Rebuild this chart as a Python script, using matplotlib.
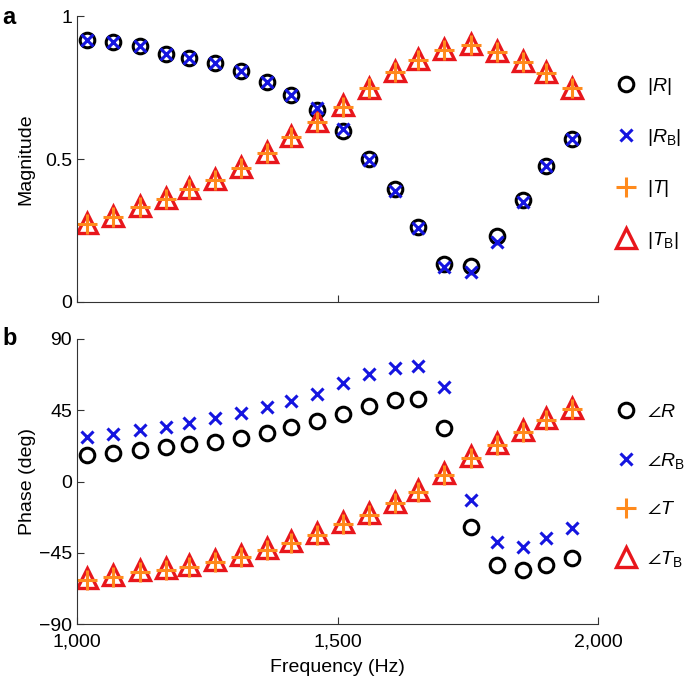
import matplotlib
matplotlib.use("Agg")
import matplotlib.pyplot as plt

plt.rcParams['font.family'] = ['Liberation Sans', 'DejaVu Sans']
plt.rcParams['mathtext.fontset'] = 'custom'
plt.rcParams['mathtext.rm'] = 'Liberation Sans'
plt.rcParams['mathtext.it'] = 'Liberation Sans:italic'
plt.rcParams['mathtext.fallback'] = 'stixsans'

# frequencies (Hz)
freq = [1020, 1070, 1120, 1170, 1215, 1265, 1315, 1365, 1410, 1460,
        1510, 1560, 1610, 1655, 1705, 1755, 1805, 1855, 1900, 1950]

# magnitudes
mag_R = [0.916, 0.908, 0.896, 0.867, 0.854, 0.835, 0.808, 0.770, 0.724, 0.671,
         0.598, 0.500, 0.394, 0.263, 0.132, 0.126, 0.231, 0.357, 0.476, 0.569]
mag_RB = [0.916, 0.908, 0.896, 0.867, 0.854, 0.835, 0.808, 0.770, 0.724, 0.678,
          0.606, 0.497, 0.387, 0.258, 0.123, 0.106, 0.211, 0.349, 0.476, 0.569]
mag_T = [0.273, 0.298, 0.331, 0.359, 0.394, 0.427, 0.470, 0.522, 0.578, 0.630,
         0.682, 0.747, 0.805, 0.848, 0.881, 0.899, 0.875, 0.840, 0.800, 0.747]
mag_TB = [0.276, 0.301, 0.334, 0.362, 0.397, 0.430, 0.473, 0.525, 0.581, 0.633,
          0.690, 0.750, 0.808, 0.851, 0.884, 0.902, 0.878, 0.843, 0.803, 0.750]

# phases (deg)
ph_R = [16.7, 18.2, 19.9, 21.6, 23.5, 25.1, 27.7, 30.4, 34.6, 38.2,
        42.4, 47.7, 51.5, 51.9, 33.6, -28.9, -52.7, -55.9, -52.7, -48.5]
ph_RB = [28.3, 29.8, 32.5, 34.6, 36.8, 39.9, 43.1, 46.9, 50.9, 55.3,
         62.0, 67.9, 71.5, 73.0, 59.9, -11.7, -38.0, -41.2, -35.9, -29.6]
ph_T = [-62.2, -60.1, -57.0, -55.9, -53.8, -50.7, -47.5, -43.3, -38.6, -33.8,
        -26.8, -21.2, -13.8, -6.4, 4.1, 14.7, 23.1, 31.5, 38.9, 45.6]
ph_TB = [-61.0, -59.0, -56.0, -54.8, -52.6, -49.6, -46.4, -42.2, -37.5, -32.7,
         -25.8, -20.1, -12.8, -5.3, 5.2, 15.8, 24.2, 32.6, 40.0, 46.7]

labels_a = [r'|$R$|', r'|$R_{\mathrm{B}}$|', r'|$T$|', r'|$T_{\mathrm{B}}$|']
labels_b = [r'$\angle R$', r'$\angle R_{\mathrm{B}}$', r'$\angle T$', r'$\angle T_{\mathrm{B}}$']

fs = 14

fig = plt.figure(figsize=(6.85, 6.84), dpi=100)
ax1 = fig.add_axes([0.1124, 0.5585, 0.761, 0.418])
ax2 = fig.add_axes([0.1124, 0.0877, 0.761, 0.4167])


def draw(ax, r, rb, t, tb, labels):
    h_r, = ax.plot(freq, r, 'o', ms=10.5, mfc='none', mec='black', mew=2.2, ls='none')
    h_tb, = ax.plot(freq, tb, '^', ms=15, mfc='none', mec='#e8161c', mew=2.4, ls='none')
    h_t, = ax.plot(freq, t, '+', ms=14, mec='#ff8a1c', mew=2.2, ls='none')
    h_rb, = ax.plot(freq, rb, 'x', ms=9, mec='#1515e0', mew=2.2, ls='none')
    ax.legend([h_r, h_rb, h_t, h_tb], labels, loc='center left',
              bbox_to_anchor=(1.015, 0.485), frameon=False, fontsize=fs,
              handlelength=1.0, handletextpad=0.6, labelspacing=1.55,
              borderpad=0)
    for s in ['top', 'right']:
        ax.spines[s].set_visible(False)
    for s in ['left', 'bottom']:
        ax.spines[s].set_color('#333333')
    ax.tick_params(direction='in', length=5, labelsize=fs, color='#333333')
    ax.set_xlim(1000, 2000)
    ax.set_xticks([1000, 1500, 2000])


draw(ax1, mag_R, mag_RB, mag_T, mag_TB, labels_a)
ax1.set_ylim(0, 1)
ax1.set_yticks([0, 0.5, 1])
ax1.set_yticklabels(['0', '0.5', '1'])
ax1.set_xticklabels([])
ax1.set_ylabel('Magnitude', fontsize=fs, labelpad=8)

draw(ax2, ph_R, ph_RB, ph_T, ph_TB, labels_b)
ax2.set_ylim(-90, 90)
ax2.set_yticks([-90, -45, 0, 45, 90])
ax2.set_yticklabels(['\u221290', '\u221245', '0', '45', '90'])
ax2.set_xticklabels(['1,000', '1,500', '2,000'])
ax2.tick_params(axis='x', pad=7)
ax2.set_xlabel('Frequency (Hz)', fontsize=fs, labelpad=6)
ax2.set_ylabel('Phase (deg)', fontsize=fs, labelpad=2)

fig.text(0.003, 0.975, 'a', fontsize=17, fontweight='bold', va='center')
fig.text(0.003, 0.505, 'b', fontsize=17, fontweight='bold', va='center')

fig.savefig('out.png', dpi=100)
